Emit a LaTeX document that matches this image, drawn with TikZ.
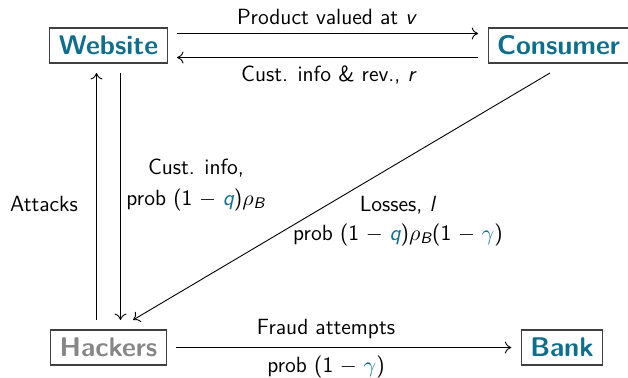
\documentclass[tikz,border=0pt]{standalone}
\usepackage{amsmath}
\usetikzlibrary{arrows.meta}
\definecolor{agent}{RGB}{14,110,140}
\definecolor{rogue}{RGB}{135,135,135}
\newcommand\sv[1]{\textsf{\itshape #1}}
\newcommand\qq{{\color{agent}\sv{q}}}
\newcommand\gm{{\color{agent}\gamma}}
\newcommand\mn{\mkern1.5mu-\mkern1.5mu}
\begin{document}
\begin{tikzpicture}[x=0.5pt,y=-0.5pt,
  font=\sffamily\fontsize{11}{13}\selectfont,
  party/.style={draw=black!75, line width=0.55pt, minimum height=17.5pt,
    inner xsep=4.5pt, inner ysep=0pt, outer sep=5pt,
    font=\sffamily\bfseries\fontsize{13.5}{15}\selectfont, text=agent},
  flow/.style={-{To[length=3.2pt,width=6pt]}, line width=0.45pt},
  tag/.style={anchor=base, inner sep=0pt}]
\useasboundingbox (0,0) rectangle (628,377);

% parties
\node[party] (web) at (108.5,45.5) {Website};
\node[party] (con) at (558.5,45.5) {Consumer};
\node[party, text=rogue] (hack) at (108.5,347.5) {Hackers};
\node[party] (bank) at (562,347.5) {Bank};

% flows between them
\draw[flow] ([yshift=6pt]web.east) -- ([yshift=6pt]con.west);
\draw[flow] ([yshift=-6pt]con.west) -- ([yshift=-6pt]web.east);
\draw[flow] ([xshift=-6pt]hack.north) -- ([xshift=-6pt]web.south);
\draw[flow] ([xshift=6pt]web.south) -- ([xshift=6pt]hack.north);
\draw[flow] ([xshift=-4.25pt]con.south) -- ([xshift=12.25pt]hack.north);
\draw[flow] (hack.east) -- (bank.west);

% flow labels
\node[tag] (l1) at (327,24) {Product valued at \sv{v}};
\node[tag] (l2) at (329,81) {Cust. info \& rev., \sv{r}};
\node[tag] (l3) at (44,211) {Attacks};
\node[tag] (l4) at (196,174) {Cust. info,};
\node[tag] (l5) at (196,205) {prob $\textsf{(1}\mn\qq\textsf{)}\rho_{\sv{B}}$};
\node[tag] (l6) at (398,211.5) {Losses, \sv{l}};
\node[tag] (l7) at (398,240) {prob $\textsf{(1}\mn\qq\textsf{)}\rho_{\sv{B}}\textsf{(1}\mn\gm\textsf{)}$};
\node[tag] (l8) at (326,334) {Fraud attempts};
\node[tag] (l9) at (326,372) {prob $\textsf{(1}\mn\gm\textsf{)}$};
\end{tikzpicture}
\end{document}
